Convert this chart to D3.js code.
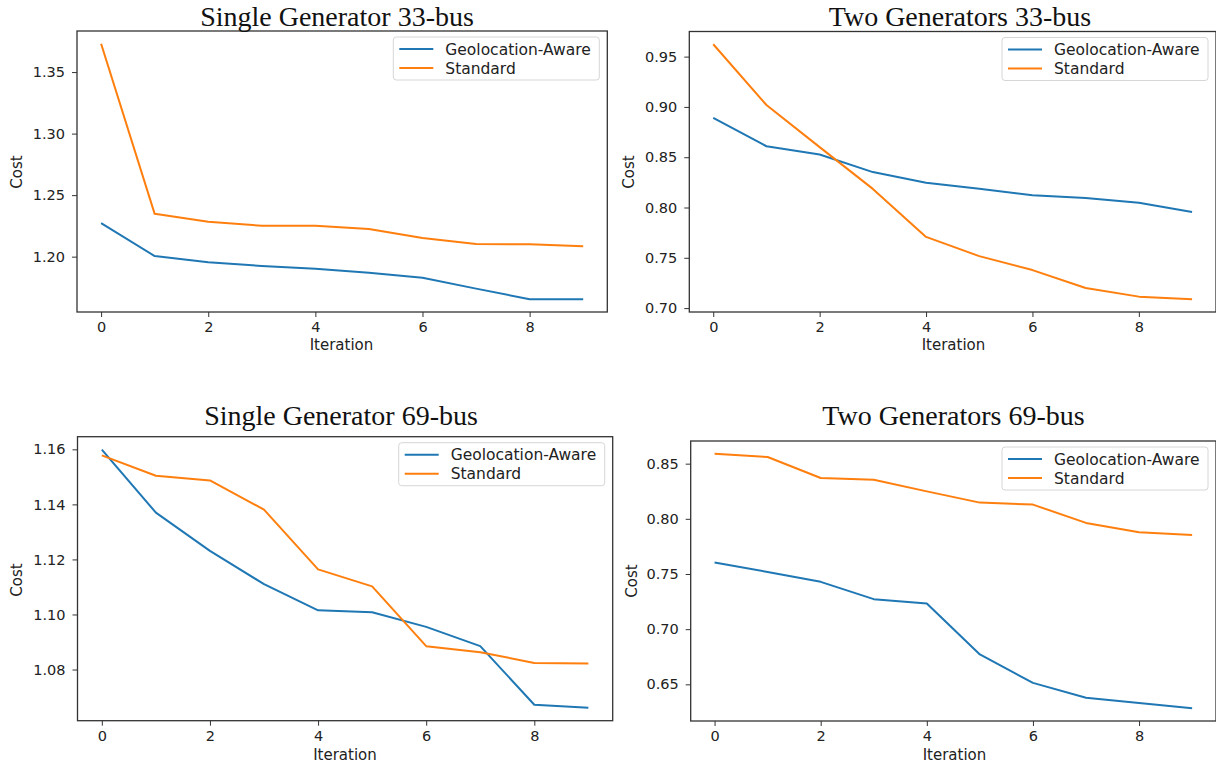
<!DOCTYPE html>
<html>
<head>
<meta charset="utf-8">
<script src="https://cdn.jsdelivr.net/npm/d3@7"></script>
<style>
  body { margin: 0; background: #fff; }
  svg { display: block; }
</style>
</head>
<body>
<div id="chart"></div>
<script>
const width = 1216
const height = 764

// DATA
const iterations = [0, 1, 2, 3, 4, 5, 6, 7, 8, 9]
const seriesNames = ["Geolocation-Aware", "Standard"]
const titles = ["Single Generator 33-bus", "Two Generators 33-bus", "Single Generator 69-bus", "Two Generators 69-bus"]

const geoSingle33 = [1.2273, 1.2005, 1.1954, 1.1924, 1.1902, 1.1870, 1.1829, 1.1740, 1.1654, 1.1654]
const stdSingle33 = [1.3730, 1.2348, 1.2283, 1.2251, 1.2251, 1.2224, 1.2151, 1.2103, 1.2100, 1.2084]
const geoTwo33 = [0.8890, 0.8609, 0.8527, 0.8352, 0.8247, 0.8187, 0.8121, 0.8094, 0.8048, 0.7955]
const stdTwo33 = [0.9623, 0.9019, 0.8600, 0.8185, 0.7708, 0.7517, 0.7378, 0.7200, 0.7114, 0.7088]
const geoSingle69 = [1.1599, 1.1370, 1.1231, 1.1110, 1.1015, 1.1008, 1.0955, 1.0885, 1.0672, 1.0661]
const stdSingle69 = [1.1578, 1.1504, 1.1487, 1.1381, 1.1164, 1.1102, 1.0885, 1.0863, 1.0824, 1.0822]
const geoTwo69 = [0.7604, 0.7519, 0.7429, 0.7272, 0.7233, 0.6771, 0.6513, 0.6379, 0.6331, 0.6283]
const stdTwo69 = [0.8590, 0.8560, 0.8370, 0.8355, 0.8249, 0.8147, 0.8129, 0.7963, 0.7878, 0.7854]

const xTicks = [0, 2, 4, 6, 8]
const yTicksSingle33 = [1.20, 1.25, 1.30, 1.35]
const yTicksTwo33 = [0.70, 0.75, 0.80, 0.85, 0.90, 0.95]
const yTicksSingle69 = [1.08, 1.10, 1.12, 1.14, 1.16]
const yTicksTwo69 = [0.65, 0.70, 0.75, 0.80, 0.85]

const geoSeries = [geoSingle33, geoTwo33, geoSingle69, geoTwo69]
const stdSeries = [stdSingle33, stdTwo33, stdSingle69, stdTwo69]
const yTickSets = [yTicksSingle33, yTicksTwo33, yTicksSingle69, yTicksTwo69]

// LAYOUT (axes boxes in page pixels)
const layout = [
  {x0: 77, x1: 607.3, y0: 31, y1: 312, titleX: 337, titleY: 25.5, costX: 21.5, costY: 172, iterX: 341.5, iterY: 350},
  {x0: 689.3, x1: 1216, y0: 31.5, y1: 312, titleX: 960, titleY: 25.5, costX: 634, costY: 172, iterX: 953.5, iterY: 350},
  {x0: 77.5, x1: 612.7, y0: 436.7, y1: 720.7, titleX: 341, titleY: 425, costX: 21.5, costY: 580, iterX: 345, iterY: 759.5},
  {x0: 690.7, x1: 1216, y0: 441, y1: 721, titleX: 953.5, titleY: 425, costX: 636.5, costY: 581, iterX: 954.5, iterY: 759.5}
]

const color = d3.scaleOrdinal()
  .domain(seriesNames)
  .range(["#1f77b4", "#ff7f0e"])

const sans = "DejaVu Sans, sans-serif"

const svg = d3.select("#chart")
  .append("svg")
    .attr("width", width)
    .attr("height", height)

function drawPanel(i) {
  const L = layout[i]
  const geo = geoSeries[i]
  const std = stdSeries[i]
  const g = svg.append("g")

  const xScale = d3.scaleLinear()
    .domain([-0.45, 9.45])
    .range([L.x0, L.x1])

  // matplotlib-like 5% margins
  const ext = d3.extent(geo.concat(std))
  const pad = (ext[1] - ext[0]) * 0.05
  const yScale = d3.scaleLinear()
    .domain([ext[0] - pad, ext[1] + pad])
    .range([L.y1, L.y0])

  // X AXIS
  const gx = g.append("g")
    .attr("transform", `translate(0,${L.y1})`)
    .call(d3.axisBottom(xScale)
      .tickValues(xTicks)
      .tickFormat(d3.format("d"))
      .tickSize(5)
      .tickSizeOuter(0)
      .tickPadding(5))
  gx.select(".domain").remove()

  // Y AXIS
  const gy = g.append("g")
    .attr("transform", `translate(${L.x0},0)`)
    .call(d3.axisLeft(yScale)
      .tickValues(yTickSets[i])
      .tickFormat(d3.format(".2f"))
      .tickSize(5)
      .tickSizeOuter(0)
      .tickPadding(7))
  gy.select(".domain").remove()

  g.selectAll(".tick text")
    .attr("font-family", sans)
    .attr("font-size", "14.5px")
    .attr("fill", "#222")
  g.selectAll(".tick line")
    .attr("stroke", "#333")
    .attr("stroke-width", 1)

  // LINES
  const line = d3.line()
    .x((d, j) => xScale(iterations[j]))
    .y(d => yScale(d))

  g.append("path")
    .datum(geo)
    .attr("d", line)
    .attr("fill", "none")
    .attr("stroke", color(seriesNames[0]))
    .attr("stroke-width", 2)
    .attr("stroke-linejoin", "round")

  g.append("path")
    .datum(std)
    .attr("d", line)
    .attr("fill", "none")
    .attr("stroke", color(seriesNames[1]))
    .attr("stroke-width", 2)
    .attr("stroke-linejoin", "round")

  // FRAME
  g.append("rect")
    .attr("x", L.x0)
    .attr("y", L.y0)
    .attr("width", L.x1 - L.x0)
    .attr("height", L.y1 - L.y0)
    .attr("fill", "none")
    .attr("stroke", "#333")
    .attr("stroke-width", 1.3)

  // LEGEND
  const lw = 206, lh = 43
  const lx = L.x1 - 8 - lw
  const ly = L.y0 + 6
  g.append("rect")
    .attr("x", lx)
    .attr("y", ly)
    .attr("width", lw)
    .attr("height", lh)
    .attr("rx", 3)
    .attr("fill", "#fff")
    .attr("fill-opacity", 0.8)
    .attr("stroke", "#d6d6d6")
    .attr("stroke-width", 1)

  g.selectAll("legendLines")
    .data(seriesNames)
    .enter()
    .append("line")
      .attr("x1", lx + 6)
      .attr("x2", lx + 40)
      .attr("y1", (d, j) => ly + 12 + j * 19)
      .attr("y2", (d, j) => ly + 12 + j * 19)
      .attr("stroke", d => color(d))
      .attr("stroke-width", 2)

  g.selectAll("legendLabels")
    .data(seriesNames)
    .enter()
    .append("text")
      .attr("x", lx + 52)
      .attr("y", (d, j) => ly + 17.5 + j * 19)
      .text(d => d)
      .attr("font-family", sans)
      .attr("font-size", "15.5px")
      .attr("fill", "#222")

  // TITLE + AXIS LABELS
  g.append("text")
    .attr("x", L.titleX)
    .attr("y", L.titleY)
    .attr("text-anchor", "middle")
    .text(titles[i])
    .attr("font-family", "Liberation Serif, Times New Roman, serif")
    .attr("font-size", "28px")
    .attr("fill", "#111")

  g.append("text")
    .attr("x", L.iterX)
    .attr("y", L.iterY)
    .attr("text-anchor", "middle")
    .text("Iteration")
    .attr("font-family", sans)
    .attr("font-size", "15px")
    .attr("fill", "#222")

  g.append("text")
    .attr("transform", `translate(${L.costX},${L.costY}) rotate(-90)`)
    .attr("text-anchor", "middle")
    .text("Cost")
    .attr("font-family", sans)
    .attr("font-size", "15px")
    .attr("fill", "#222")
}

for (let i = 0; i < 4; i++) drawPanel(i)
</script>
</body>
</html>
